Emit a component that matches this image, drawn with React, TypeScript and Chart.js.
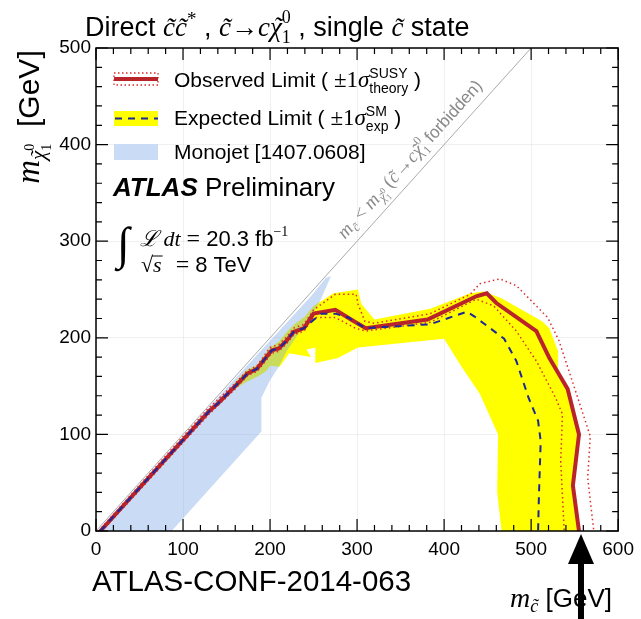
import React, { useEffect, useRef } from "react";
import { Chart, registerables } from "chart.js";
Chart.register(...registerables);

type P = [number, number];

const X_TICKS = [0, 100, 200, 300, 400, 500, 600];
const Y_TICKS = [0, 100, 200, 300, 400, 500];
const MINOR_STEP = 20;

// observed limit (solid red)
const observed: P[] = [
  [5, 0], [130, 124], [140, 132], [160, 150], [174, 163], [185, 168], [202, 187], [210, 189],
  [219, 197], [227, 206], [239, 210], [250, 225], [275, 229], [293, 219], [310, 210],
  [381, 219], [437, 243], [449, 246], [460, 236], [506, 207], [521, 179], [542, 147],
  [555, 100], [548, 47], [555, 0],
];
// observed +1 sigma theory
const observedUp: P[] = [
  [3, 0], [128, 126], [160, 153], [174, 166], [185, 171], [200, 190], [210, 193], [219, 201],
  [227, 210], [239, 214], [250, 229], [275, 245], [299, 245], [301, 235], [309, 217],
  [320, 215], [384, 225], [430, 245], [441, 256], [464, 261], [483, 254], [519, 221],
  [532, 197], [551, 145], [568, 98], [565, 55], [572, 0],
];
// observed -1 sigma theory
const observedDown: P[] = [
  [7, 0], [131, 122], [160, 147], [174, 161], [185, 165], [202, 184], [210, 186], [219, 194],
  [227, 203], [239, 207], [250, 221], [275, 221], [298, 210], [310, 207], [384, 216],
  [437, 240], [457, 233], [483, 207], [506, 176], [528, 138], [536, 121], [534, 72], [538, 0],
];
// expected limit (dashed blue)
const expected: P[] = [
  [5, 0], [130, 124], [140, 132], [160, 150], [174, 163], [185, 168], [202, 187], [210, 189],
  [219, 197], [227, 206], [239, 210], [248, 217], [259, 225], [275, 225], [290, 221],
  [309, 210], [384, 214], [426, 227], [435, 222], [469, 199], [483, 176], [497, 138],
  [508, 114], [511, 93], [509, 38], [508, 0],
];
// expected +-1 sigma band (yellow)
const expectedBand: P[] = [
  [158, 146], [172, 154], [186, 160], [196, 166], [200, 171], [211, 170], [222, 184],
  [247, 180], [242, 188], [252, 190], [252, 174], [278, 179], [301, 190], [400, 199],
  [420, 170], [441, 142], [462, 100], [461, 41], [466, 0], [555, 0], [548, 49], [555, 100],
  [542, 145], [532, 166], [531, 186], [521, 210], [513, 217], [466, 241], [445, 248],
  [430, 246], [384, 230], [320, 219], [305, 235], [301, 250], [273, 246], [250, 233],
  [240, 222], [228, 214], [218, 205], [210, 196], [200, 190], [185, 172], [172, 166],
  [158, 152], [158, 146],
];
// monojet excluded region (light blue)
const monojet: P[] = [
  [2, 0], [87, 0], [190, 103], [190, 138], [200, 156], [210, 170], [219, 186], [256, 235],
  [270, 264], [264, 262], [247, 243], [200, 197], [150, 148], [2, 0],
];
// kinematic boundary m_c = m_chi
const diagonal: P[] = [[0, 0], [500, 500]];

const SANS = '"Liberation Sans", Arial, Helvetica, sans-serif';
const SERIF = '"Liberation Serif", "DejaVu Serif", serif';
const sans = (s: number) => `${s}px ${SANS}`;
const serif = (s: number) => `${s}px ${SERIF}`;
const serifI = (s: number) => `italic ${s}px ${SERIF}`;

type Part = { t: string; f: string; dy?: number; tilde?: number };
type Group = Part[];

function richWidth(ctx: CanvasRenderingContext2D, groups: Group[]) {
  let w = 0;
  for (const g of groups) {
    let m = 0;
    for (const p of g) {
      ctx.font = p.f;
      m = Math.max(m, ctx.measureText(p.t).width);
    }
    w += m;
  }
  return w;
}

function drawRich(
  ctx: CanvasRenderingContext2D,
  groups: Group[],
  x: number,
  y: number,
  align: "left" | "center" | "right" = "left",
  color = "#000"
) {
  const w = richWidth(ctx, groups);
  let cx = align === "left" ? x : align === "center" ? x - w / 2 : x - w;
  ctx.save();
  ctx.fillStyle = color;
  ctx.textAlign = "left";
  ctx.textBaseline = "alphabetic";
  for (const g of groups) {
    let m = 0;
    for (const p of g) {
      ctx.font = p.f;
      const pw = ctx.measureText(p.t).width;
      ctx.fillText(p.t, cx, y + (p.dy || 0));
      if (p.tilde) {
        const tw = ctx.measureText("\u02DC").width;
        ctx.fillText("\u02DC", cx + pw / 2 - tw / 2 + p.tilde, y + (p.dy || 0));
      }
      m = Math.max(m, pw);
    }
    cx += m;
  }
  ctx.restore();
  return w;
}

const pts = (a: P[]) => a.map(([x, y]) => ({ x, y }));

const overlay = {
  id: "overlay",
  afterDraw(chart: any) {
    const { ctx, chartArea: a } = chart;
    const xs = chart.scales.x;
    const ys = chart.scales.y;
    ctx.save();

    // frame
    ctx.strokeStyle = "#000";
    ctx.lineWidth = 1.5;
    ctx.strokeRect(a.left, a.top, a.right - a.left, a.bottom - a.top);

    // ticks inward on four sides
    ctx.lineWidth = 1.2;
    ctx.beginPath();
    for (let v = xs.min; v <= xs.max; v += MINOR_STEP) {
      const px = xs.getPixelForValue(v);
      const len = X_TICKS.includes(v) ? 12 : 6;
      ctx.moveTo(px, a.bottom);
      ctx.lineTo(px, a.bottom - len);
      ctx.moveTo(px, a.top);
      ctx.lineTo(px, a.top + len);
    }
    for (let v = ys.min; v <= ys.max; v += MINOR_STEP) {
      const py = ys.getPixelForValue(v);
      const len = Y_TICKS.includes(v) ? 12 : 6;
      ctx.moveTo(a.left, py);
      ctx.lineTo(a.left + len, py);
      ctx.moveTo(a.right, py);
      ctx.lineTo(a.right - len, py);
    }
    ctx.stroke();

    // title
    drawRich(ctx, [
      [{ t: "Direct ", f: sans(27) }],
      [{ t: "c\u0303c\u0303", f: serifI(27) }],
      [{ t: "*", f: serif(19), dy: -11 }],
      [{ t: " , ", f: sans(27) }],
      [{ t: "c\u0303", f: serifI(27) }],
      [{ t: "\u2192", f: serif(27) }],
      [{ t: "c", f: serifI(27) }],
      [{ t: "\u03C7", f: serifI(27), tilde: 2 }],
      [{ t: "0", f: serif(18), dy: -13 }, { t: "1", f: serif(18), dy: 7 }],
      [{ t: " , single ", f: sans(27) }],
      [{ t: "c\u0303", f: serifI(27) }],
      [{ t: " state", f: sans(27) }],
    ], 85, 36);

    // y axis title (rotated)
    ctx.save();
    ctx.translate(39, 117);
    ctx.rotate(-Math.PI / 2);
    drawRich(ctx, [
      [{ t: "m", f: serifI(33) }],
      [{ t: "\u03C7", f: serifI(21), dy: 6, tilde: 1 }],
      [{ t: "0", f: serif(14), dy: -5 }, { t: "1", f: serif(14), dy: 12 }],
      [{ t: "  [GeV]", f: sans(30) }],
    ], 0, 0, "center");
    ctx.restore();

    // x axis title
    drawRich(ctx, [
      [{ t: "m", f: serifI(28) }],
      [{ t: "c\u0303", f: serifI(18), dy: 5 }],
      [{ t: " [GeV]", f: sans(26) }],
    ], 612, 607, "right");

    // conf note
    ctx.font = sans(29.5);
    ctx.fillStyle = "#000";
    ctx.textAlign = "left";
    ctx.textBaseline = "alphabetic";
    ctx.fillText("ATLAS-CONF-2014-063", 92, 591);

    // legend
    const lx0 = 114, lx1 = 158;
    ctx.save();
    ctx.strokeStyle = "#dd2a2a";
    ctx.lineWidth = 1.3;
    ctx.setLineDash([1.5, 2.5]);
    ctx.strokeRect(lx0, 73, lx1 - lx0, 12);
    ctx.setLineDash([]);
    ctx.strokeStyle = "#b9232a";
    ctx.lineWidth = 4;
    ctx.beginPath();
    ctx.moveTo(lx0, 79);
    ctx.lineTo(lx1, 79);
    ctx.stroke();
    ctx.fillStyle = "#ffff00";
    ctx.fillRect(lx0, 111, lx1 - lx0, 15);
    ctx.strokeStyle = "#1c2899";
    ctx.lineWidth = 2;
    ctx.setLineDash([7, 6]);
    ctx.beginPath();
    ctx.moveTo(lx0 + 1, 118.5);
    ctx.lineTo(lx1, 118.5);
    ctx.stroke();
    ctx.setLineDash([]);
    ctx.fillStyle = "#c9dbf5";
    ctx.fillRect(lx0, 144, lx1 - lx0, 16);
    ctx.restore();

    drawRich(ctx, [
      [{ t: "Observed Limit ( ", f: sans(21) }],
      [{ t: "\u00B11", f: serif(23) }],
      [{ t: "\u03C3", f: serifI(23) }],
      [{ t: "SUSY", f: sans(14), dy: -9 }, { t: "theory", f: sans(14), dy: 6 }],
      [{ t: " )", f: sans(21) }],
    ], 174, 87);
    drawRich(ctx, [
      [{ t: "Expected Limit ( ", f: sans(21) }],
      [{ t: "\u00B11", f: serif(23) }],
      [{ t: "\u03C3", f: serifI(23) }],
      [{ t: "SM", f: sans(14), dy: -9 }, { t: "exp", f: sans(14), dy: 6 }],
      [{ t: " )", f: sans(21) }],
    ], 174, 125);
    drawRich(ctx, [[{ t: "Monojet [1407.0608]", f: sans(21) }]], 174, 159);

    // ATLAS Preliminary
    drawRich(ctx, [
      [{ t: "ATLAS", f: `italic bold 26px ${SANS}` }],
      [{ t: " Preliminary", f: sans(26) }],
    ], 113, 196);

    // luminosity
    ctx.font = serif(46);
    ctx.fillStyle = "#000";
    ctx.fillText("\u222B", 117, 259);
    drawRich(ctx, [
      [{ t: "\u2112", f: serifI(22) }],
      [{ t: " dt", f: serifI(22) }],
      [{ t: " = ", f: serif(24) }],
      [{ t: "20.3 fb", f: sans(22) }],
      [{ t: "\u22121", f: serif(14), dy: -10 }],
    ], 140, 246);
    const sw = drawRich(ctx, [[{ t: "\u221A", f: serif(22) }]], 141, 272);
    ctx.font = serifI(22);
    const sW = ctx.measureText("s").width;
    ctx.fillText("s", 141 + sw, 272);
    ctx.lineWidth = 1;
    ctx.strokeStyle = "#000";
    ctx.beginPath();
    ctx.moveTo(141 + sw - 1, 256);
    ctx.lineTo(141 + sw + sW + 1, 256);
    ctx.stroke();
    drawRich(ctx, [
      [{ t: "  = ", f: serif(24) }],
      [{ t: "8 TeV", f: sans(22) }],
    ], 141 + sw + sW + 2, 272);

    // diagonal label
    const dx0 = xs.getPixelForValue(diagonal[0][0]);
    const dy0 = ys.getPixelForValue(diagonal[0][1]);
    const dx1 = xs.getPixelForValue(diagonal[1][0]);
    const dy1 = ys.getPixelForValue(diagonal[1][1]);
    const ang = Math.atan2(dy1 - dy0, dx1 - dx0);
    const cxp = xs.getPixelForValue(374);
    const cyp = ys.getPixelForValue(374);
    ctx.save();
    ctx.translate(cxp, cyp);
    ctx.rotate(ang);
    drawRich(ctx, [
      [{ t: "m", f: serifI(19) }],
      [{ t: "c\u0303", f: serifI(13), dy: 4 }],
      [{ t: " < ", f: serif(19) }],
      [{ t: "m", f: serifI(19) }],
      [{ t: "\u03C7", f: serifI(13), dy: 4, tilde: 1 }],
      [{ t: "0", f: serif(9), dy: -2 }, { t: "1", f: serif(9), dy: 7 }],
      [{ t: " (", f: serif(19) }],
      [{ t: "c\u0303", f: serifI(19) }],
      [{ t: "\u2192", f: serif(19) }],
      [{ t: "c", f: serifI(19) }],
      [{ t: "\u03C7", f: serifI(19), tilde: 1 }],
      [{ t: "0", f: serif(12), dy: -9 }, { t: "1", f: serif(12), dy: 5 }],
      [{ t: " forbidden)", f: sans(17) }],
    ], 0, -10, "center", "#8a8a8a");
    ctx.restore();

    // arrow at observed limit for massless neutralino
    const arrowX = xs.getPixelForValue(observed[observed.length - 1][0]) + 2;
    const tipY = a.bottom + 3;
    ctx.fillStyle = "#000";
    ctx.beginPath();
    ctx.moveTo(arrowX, tipY);
    ctx.lineTo(arrowX - 13, tipY + 30);
    ctx.lineTo(arrowX + 13, tipY + 30);
    ctx.closePath();
    ctx.fill();
    ctx.fillRect(arrowX - 3, tipY + 28, 6, chart.height - tipY - 28);

    ctx.restore();
  },
};

export default function App() {
  const ref = useRef<HTMLCanvasElement>(null);
  useEffect(() => {
    const canvas = ref.current!;
    const line = (data: P[], extra: any) => ({
      data: pts(data),
      showLine: true,
      pointRadius: 0,
      pointHoverRadius: 0,
      tension: 0,
      fill: false,
      ...extra,
    });
    const chart = new Chart(canvas, {
      type: "scatter",
      data: {
        datasets: [
          line(expectedBand, { label: "band", fill: "shape", backgroundColor: "#ffff00", borderColor: "transparent", borderWidth: 0, order: 10 }),
          line(monojet, { label: "monojet", fill: "shape", backgroundColor: "rgba(120,165,230,0.4)", borderColor: "transparent", borderWidth: 0, order: 9 }),
          line(diagonal, { label: "diag", borderColor: "#aaaaaa", borderWidth: 1, order: 8 }),
          line(observedUp, { label: "obsUp", borderColor: "#dd2a2a", borderWidth: 1.5, borderDash: [1.5, 3], order: 6 }),
          line(observedDown, { label: "obsDown", borderColor: "#dd2a2a", borderWidth: 1.5, borderDash: [1.5, 3], order: 5 }),
          line(observed, { label: "observed", borderColor: "#b9232a", borderWidth: 4, order: 4 }),
          line(expected, { label: "expected", borderColor: "#1c2899", borderWidth: 2, borderDash: [7, 6], order: 3 }),
        ],
      },
      options: {
        responsive: false,
        animation: false,
        devicePixelRatio: 1,
        layout: { padding: { left: 0, right: 18, top: 48, bottom: 58 } },
        plugins: { legend: { display: false }, tooltip: { enabled: false }, title: { display: false } },
        scales: {
          x: {
            type: "linear",
            min: 0,
            max: 600,
            afterBuildTicks: (s: any) => { s.ticks = X_TICKS.map((v) => ({ value: v })); },
            afterFit: (s: any) => { s.height = 30; },
            grid: { color: "rgba(0,0,0,0.06)", drawTicks: false, lineWidth: 1 },
            border: { display: false },
            ticks: { font: { family: SANS, size: 19 }, color: "#000", padding: 7, maxRotation: 0, autoSkip: false },
          },
          y: {
            type: "linear",
            min: 0,
            max: 500,
            afterBuildTicks: (s: any) => { s.ticks = Y_TICKS.map((v) => ({ value: v })); },
            afterFit: (s: any) => { s.width = 96; },
            grid: { color: "rgba(0,0,0,0.06)", drawTicks: false, lineWidth: 1 },
            border: { display: false },
            ticks: { font: { family: SANS, size: 19 }, color: "#000", padding: 5, autoSkip: false },
          },
        },
      },
      plugins: [overlay],
    } as any);
    return () => chart.destroy();
  }, []);
  return (
    <div style={{ position: "absolute", left: 0, top: 0, width: 641, height: 619, background: "#fff" }}>
      <canvas ref={ref} width={641} height={619} style={{ display: "block" }} />
    </div>
  );
}
